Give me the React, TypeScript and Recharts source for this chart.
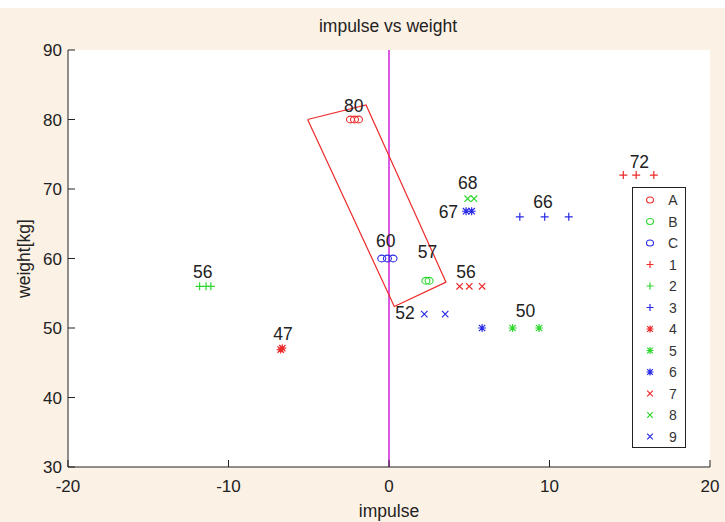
import React from 'react';
import { ScatterChart, Scatter, XAxis, YAxis, ReferenceLine, CartesianGrid, Legend } from 'recharts';

const RED = '#ee2a2a';
const GREEN = '#2ed82e';
const BLUE = '#2a2ae6';
const FONT = '"Liberation Sans", Arial, sans-serif';

const xTicks = [-20, -10, 0, 10, 20];
const yTicks = [30, 40, 50, 60, 70, 80, 90];

const seriesA = [{ x: -2.4, y: 80 }, { x: -2.15, y: 80 }, { x: -1.9, y: 80 }];
const seriesB = [{ x: 2.3, y: 56.8 }, { x: 2.5, y: 56.8 }];
const seriesC = [{ x: -0.45, y: 60 }, { x: -0.1, y: 60 }, { x: 0.25, y: 60 }];
const series1 = [{ x: 14.6, y: 72 }, { x: 15.4, y: 72 }, { x: 16.5, y: 72 }];
const series2 = [{ x: -11.8, y: 56 }, { x: -11.4, y: 56 }, { x: -11.1, y: 56 }];
const series3 = [{ x: 8.15, y: 66 }, { x: 9.7, y: 66 }, { x: 11.2, y: 66 }];
const series4 = [{ x: -6.75, y: 46.9 }, { x: -6.65, y: 47.1 }];
const series5 = [{ x: 7.7, y: 50 }, { x: 9.35, y: 50 }];
const series6 = [{ x: 4.8, y: 66.8 }, { x: 5.15, y: 66.8 }, { x: 5.8, y: 50 }];
const series7 = [{ x: 4.4, y: 56 }, { x: 5.0, y: 56 }, { x: 5.8, y: 56 }];
const series8 = [{ x: 4.9, y: 68.6 }, { x: 5.3, y: 68.6 }];
const series9 = [{ x: 2.2, y: 52 }, { x: 3.5, y: 52 }];

const seriesNames = ['A', 'B', 'C', '1', '2', '3', '4', '5', '6', '7', '8', '9'];
const seriesKinds = ['o', 'o', 'o', '+', '+', '+', '*', '*', '*', 'x', 'x', 'x'];
const seriesColors = [RED, GREEN, BLUE, RED, GREEN, BLUE, RED, GREEN, BLUE, RED, GREEN, BLUE];
const seriesData = [seriesA, seriesB, seriesC, series1, series2, series3, series4, series5, series6, series7, series8, series9];

const groupLabels = [
  { x: -2.2, y: 81.9, text: '80' },
  { x: 2.4, y: 60.9, text: '57' },
  { x: -0.2, y: 62.5, text: '60' },
  { x: 15.6, y: 73.9, text: '72' },
  { x: -11.6, y: 58.0, text: '56' },
  { x: 9.6, y: 68.2, text: '66' },
  { x: -6.6, y: 49.2, text: '47' },
  { x: 8.5, y: 52.4, text: '50' },
  { x: 3.7, y: 66.7, text: '67' },
  { x: 4.8, y: 58.0, text: '56' },
  { x: 4.9, y: 70.9, text: '68' },
  { x: 1.0, y: 52.1, text: '52' },
];

const boxCorners = [
  { x: -5.07, y: 80.0 },
  { x: -1.43, y: 82.1 },
  { x: 3.55, y: 56.6 },
  { x: 0.33, y: 53.1 },
  { x: -5.07, y: 80.0 },
];

function Glyph({ kind, cx, cy, color, r }: { kind: string; cx: number; cy: number; color: string; r: number }) {
  if (cx == null || cy == null) return <g />;
  const p = `M${cx - r},${cy}H${cx + r}M${cx},${cy - r}V${cy + r}`;
  const d = r * 0.8;
  const xx = `M${cx - d},${cy - d}L${cx + d},${cy + d}M${cx - d},${cy + d}L${cx + d},${cy - d}`;
  if (kind === 'o') return <ellipse cx={cx} cy={cy} rx={r} ry={r * 0.85} fill="none" stroke={color} strokeWidth={1.1} />;
  if (kind === '+') return <path d={p} stroke={color} strokeWidth={1.2} fill="none" />;
  if (kind === 'x') return <path d={xx} stroke={color} strokeWidth={1.2} fill="none" />;
  return <path d={p + xx} stroke={color} strokeWidth={1.2} fill="none" />;
}

function renderLegend() {
  const w = 54;
  const h = 261;
  return (
    <svg width={w} height={h} style={{ display: 'block' }}>
      <rect x={0.5} y={0.5} width={w - 1} height={h - 1} fill="#fff" stroke="#222" strokeWidth={1} />
      {seriesNames.map((n, i) => {
        const cy = 13 + i * 21.5;
        return (
          <g key={n}>
            <Glyph kind={seriesKinds[i]} cx={18} cy={cy} color={seriesColors[i]} r={3.5} />
            <text x={41} y={cy} textAnchor="middle" dominantBaseline="central" fontSize={14} fontFamily={FONT} fill="#333">
              {n}
            </text>
          </g>
        );
      })}
    </svg>
  );
}

const tickStyle = { fontSize: 17, fontFamily: FONT, fill: '#222' };
const titleStyle = { fontSize: 17.5, fontFamily: FONT, fill: '#222' };
const blank = () => '';

export default function App() {
  return (
    <div style={{ position: 'absolute', left: 0, top: 0, width: 725, height: 522, background: '#fcf1e5', overflow: 'hidden' }}>
      <div style={{ position: 'absolute', left: 0, top: 0, width: 725, height: 8, background: '#fff' }} />
      <ScatterChart width={725} height={522} margin={{ top: 50, right: 15, left: 0, bottom: 0 }}>
        <text x={388} y={26} textAnchor="middle" dominantBaseline="central" {...titleStyle}>
          impulse vs weight
        </text>
        <CartesianGrid horizontal={false} vertical={false} fill="#fff" xAxisId="b" yAxisId="l" />
        <XAxis
          xAxisId="b"
          type="number"
          dataKey="x"
          domain={[-20, 20]}
          ticks={xTicks}
          allowDataOverflow
          orientation="bottom"
          height={55}
          tickSize={-7}
          tickMargin={20}
          tickLine={{ stroke: '#222' }}
          axisLine={{ stroke: '#222' }}
          tick={tickStyle}
          label={{ value: 'impulse', position: 'insideBottom', offset: 5, style: titleStyle }}
        />
        <XAxis
          xAxisId="t"
          type="number"
          dataKey="x"
          domain={[-20, 20]}
          ticks={xTicks}
          allowDataOverflow
          orientation="top"
          height={0}
          tickSize={-7}
          tickFormatter={blank}
          tickLine={{ stroke: '#222' }}
          axisLine={{ stroke: '#222' }}
        />
        <YAxis
          yAxisId="l"
          type="number"
          dataKey="y"
          domain={[30, 90]}
          ticks={yTicks}
          allowDataOverflow
          width={68}
          tickSize={-7}
          tickMargin={13}
          tickLine={{ stroke: '#222' }}
          axisLine={{ stroke: '#222' }}
          tick={tickStyle}
          label={{ value: 'weight[kg]', angle: -90, position: 'insideLeft', offset: 24, style: { ...titleStyle, textAnchor: 'middle' } }}
        />
        <YAxis
          yAxisId="r"
          type="number"
          dataKey="y"
          domain={[30, 90]}
          ticks={yTicks}
          allowDataOverflow
          orientation="right"
          width={0}
          tickSize={-7}
          tickFormatter={blank}
          tickLine={{ stroke: '#222' }}
          axisLine={{ stroke: '#222' }}
        />
        <ReferenceLine x={0} xAxisId="b" yAxisId="l" stroke="#cc22dd" strokeWidth={1.5} ifOverflow="visible" />
        <Scatter
          name="box"
          data={boxCorners}
          xAxisId="b"
          yAxisId="l"
          line={{ stroke: RED, strokeWidth: 1.2 }}
          lineType="joint"
          shape={() => <g />}
          legendType="none"
          isAnimationActive={false}
        />
        {seriesData.map((d, i) => (
          <Scatter
            key={seriesNames[i]}
            name={seriesNames[i]}
            data={d}
            xAxisId="b"
            yAxisId="l"
            fill={seriesColors[i]}
            isAnimationActive={false}
            shape={(p: any) => <Glyph kind={seriesKinds[i]} cx={p.cx} cy={p.cy} color={seriesColors[i]} r={4} />}
          />
        ))}
        <Scatter
          name="labels"
          data={groupLabels}
          xAxisId="b"
          yAxisId="l"
          legendType="none"
          isAnimationActive={false}
          shape={(p: any) => (
            <text x={p.cx} y={p.cy} textAnchor="middle" dominantBaseline="central" fontSize={17.5} fontFamily={FONT} fill="#222">
              {p.payload.text}
            </text>
          )}
        />
        <Legend
          layout="vertical"
          align="center"
          verticalAlign="middle"
          wrapperStyle={{ left: 632, top: 187, width: 54, height: 261 }}
          content={renderLegend}
        />
      </ScatterChart>
    </div>
  );
}
